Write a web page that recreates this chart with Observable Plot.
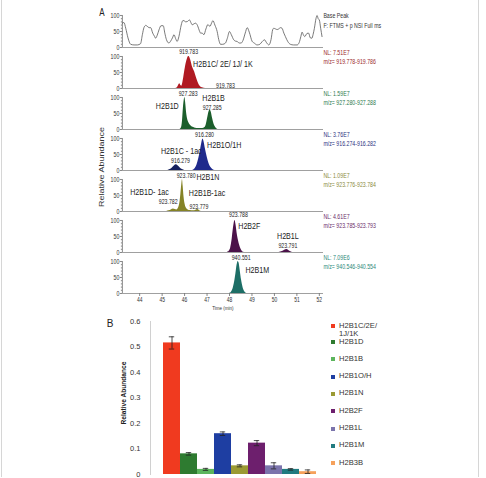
<!DOCTYPE html>
<html><head><meta charset="utf-8">
<script src="https://cdn.jsdelivr.net/npm/d3@7"></script>
<script src="https://cdn.jsdelivr.net/npm/@observablehq/plot@0.6"></script>
<style>
body{margin:0;background:#fff;}
#fig{position:relative;width:486px;height:478px;overflow:hidden;background:#fff;font-family:"Liberation Sans",Arial,Helvetica,sans-serif;color:#222;}
.abs{position:absolute;white-space:nowrap;}
</style></head><body><div id="fig"></div>
<script>
// ---------- Panel A data ----------
const panelKeys = ["BP","C","D","O","N","F","M"];
const nlText = ["Base Peak","NL: 7.51E7","NL: 1.59E7","NL: 3.76E7","NL: 1.09E7","NL: 4.61E7","NL: 7.09E6"];
const mzText = ["F: FTMS + p NSI Full ms","m/z= 919.778-919.786","m/z= 927.280-927.288","m/z= 916.274-916.282","m/z= 923.776-923.784","m/z= 923.785-923.793","m/z= 940.546-940.554"];
const nlColors = ["#333333","#9a2a2a","#2e7a4e","#2b3180","#8a8a3c","#6a2c6a","#2a8878"];
const timeTicks = [44,45,46,47,48,49,50,51,52];

const bpTime = [43.23,43.30,43.38,43.48,43.60,43.75,43.90,44.04,44.12,44.19,44.27,44.34,44.42,44.49,44.58,44.66,44.71,44.78,44.86,44.95,45.05,45.12,45.19,45.30,45.38,45.46,45.53,45.60,45.67,45.75,45.85,45.92,45.97,46.05,46.12,46.22,46.28,46.34,46.42,46.49,46.58,46.66,46.71,46.78,46.86,46.95,47.04,47.09,47.13,47.20,47.26,47.35,47.45,47.52,47.60,47.70,47.82,47.90,48.00,48.08,48.19,48.26,48.34,48.43,48.52,48.60,48.70,48.79,48.88,49.01,49.10,49.23,49.35,49.45,49.56,49.65,49.75,49.85,49.92,49.97,50.05,50.12,50.19,50.27,50.34,50.42,50.49,50.60,50.71,50.85,51.01,51.10,51.18,51.23,51.30,51.35,51.45,51.52,51.60,51.67,51.72,51.78,51.85,51.90,51.95,52.00,52.06,52.12];
const bpInt  = [76,78,60,30,10,8,8,12,40,62,69,66,62,62,45,35,29,38,55,68,68,45,25,14,20,30,40,28,19,35,70,84,84,80,81,86,78,71,74,76,68,52,45,45,40,58,72,68,66,76,84,70,50,25,10,10,14,28,50,40,24,20,19,14,14,22,45,62,48,19,14,8,10,18,24,15,8,25,55,60,58,56,58,62,60,45,34,18,10,8,8,15,35,48,38,34,44,45,30,29,40,60,90,100,90,86,60,34];

const cTime = [45.60,45.67,45.73,45.78,45.83,45.87,45.94,46.01,46.07,46.12,46.16,46.19,46.23,46.27,46.34,46.44,46.53,46.64,46.79,46.93];
const cInt  = [0,2,10,15,9,7,27,58,80,92,99,100,96,88,69,52,32,12,2,0];

const dTime = [45.78,45.85,45.90,45.94,45.98,46.01,46.04,46.08,46.12,46.19,46.30,46.44,46.64,46.80,46.90,46.96,47.02,47.08,47.13,47.18,47.24,47.30,47.38,47.48];
const dInt  = [0,5,25,65,92,100,85,55,35,20,10,5,3,3,6,15,35,55,62,55,35,18,6,0];

const oTime = [46.35,46.45,46.55,46.63,46.70,46.76,46.81,46.86,46.92,47.00,47.08,47.16,47.25,47.35];
const oInt  = [0,5,18,38,62,85,98,90,68,42,22,10,3,0];
const o2Time = [45.25,45.35,45.45,45.55,45.62,45.70,45.80,45.90,46.00];
const o2Int  = [0,3,8,15,18,15,8,3,0];

const nTime = [45.20,45.30,45.40,45.50,45.58,45.65,45.72,45.78,45.83,45.87,45.90,45.93,45.97,46.02,46.08,46.15,46.25,46.40,46.50,46.58,46.64,46.70,46.80];
const nInt  = [0,2,5,8,6,5,10,25,55,85,100,80,45,22,10,5,3,2,4,6,4,1,0];

const fTime = [47.90,47.98,48.05,48.10,48.15,48.20,48.24,48.28,48.33,48.40,48.48,48.56,48.65];
const fInt  = [0,4,15,35,65,90,100,88,62,35,15,4,0];
const lTime = [50.20,50.35,50.45,50.55,50.62,50.70,50.80];
const lInt  = [0,3,7,9,7,3,0];

const mTime = [48.00,48.08,48.15,48.22,48.28,48.33,48.38,48.42,48.47,48.53,48.60,48.68,48.76];
const mInt  = [0,4,14,35,62,88,100,95,72,42,18,5,0];

// peak labels: [panel, time, level, text, anchor, fontSize]
const peakLabels = [
  ["C",46.18,115,"919.783","middle",7],
  ["C",46.38,78,"H2B1C/ 2E/ 1J/ 1K","start",9.5],
  ["C",47.82,9,"919.783","middle",7],
  ["D",46.16,113,"927.283","middle",7],
  ["D",45.74,72,"H2B1D","end",9.5],
  ["D",47.29,98,"H2B1B","middle",9.5],
  ["D",47.23,69,"927.285","middle",7],
  ["O",46.89,111,"916.280","middle",7],
  ["O",47.00,80,"H2B1O/1H","start",9.5],
  ["O",46.76,62,"H2B1C - 1ac","end",9.5],
  ["O",45.82,31,"916.279","middle",7],
  ["N",46.07,112,"923.780","middle",7],
  ["N",46.53,109,"H2B1N","start",9.5],
  ["N",45.30,62,"H2B1D- 1ac","end",9.5],
  ["N",46.19,57,"H2B1B-1ac","start",9.5],
  ["N",45.27,29,"923.782","middle",7],
  ["N",46.64,16,"923.779","middle",7],
  ["F",48.40,117,"923.788","middle",7],
  ["F",48.39,83,"H2B2F","start",9.5],
  ["F",50.60,53,"H2B1L","middle",9.5],
  ["F",50.60,22,"923.791","middle",7],
  ["M",48.52,111,"940.551","middle",7],
  ["M",48.71,75,"H2B1M","start",9.5]
];

// ---------- Panel B data ----------
const bCategories = ["H2B1C/2E/1J/1K","H2B1D","H2B1B","H2B1O/H","H2B1N","H2B2F","H2B1L","H2B1M","H2B3B"];
const bValues = [0.516,0.081,0.020,0.160,0.034,0.123,0.034,0.020,0.011];
const bErrors = [0.024,0.005,0.004,0.007,0.004,0.010,0.012,0.003,0.007];
const bColors = ["#f03a1f","#2e7b30","#5cb55d","#1e3ea2","#9b9a33","#6d1f6d","#7b74ac","#217b80","#f6a15b"];
const bTicks = [0,0.1,0.2,0.3,0.4,0.5,0.6];

// ---------- build ----------
const FONT = '"Liberation Sans", Arial, Helvetica, sans-serif';
const fig = document.getElementById("fig");
const rows = (panel, T, V) => T.map((t,i)=>({panel, t, v: V[i]}));
const xDomain = [43.23, 52.18];
const sA = 0.75; // horizontal squeeze of panel A
const labelRows = peakLabels.map(([panel,t,v,text,anchor,size])=>({panel,t,v,text,anchor,size}));
const nlRows = panelKeys.map((p,i)=>({panel:p, text:nlText[i], color:nlColors[i], v: i===0?100:112}));
const mzRows = panelKeys.map((p,i)=>({panel:p, text:mzText[i], color:nlColors[i], v: i===0?69:83}));

const area = (data, fill) => Plot.areaY(data, {x:"t", y:"v", fy:"panel", fill, curve:"monotone-x"});

const plotA = Plot.plot({
  width: 486/sA, height: 316,
  marginLeft: 122/sA, marginRight: (486-323)/sA, marginTop: 5, marginBottom: 22,
  x: {domain: xDomain},
  y: {domain: [0, 128], label: null},
  fy: {domain: panelKeys, padding: 0, axis: null},
  style: {fontFamily: FONT, background: "transparent", color: "#222"},
  marks: [
    Plot.ruleY([0], {stroke: "#777", strokeWidth: 0.8}),
    Plot.ruleX([xDomain[0]], {x: d=>d, y1: 0, y2: 100, stroke: "#777", strokeWidth: 1}),
    Plot.axisY({ticks: [10,20,30,40,60,70,80,90], tickSize: 1.5, text: null, stroke: "#777", label: null}),
    Plot.axisY({ticks: [0,50,100], tickSize: 3, tickPadding: 1, fontSize: 7, stroke: "#777", fill: "#333", label: null}),
    Plot.axisX({ticks: timeTicks, tickSize: 3, tickPadding: 1, fontSize: 6.6, stroke: "#777", fill: "#333", label: null}),
    Plot.lineY(rows("BP", bpTime, bpInt), {x:"t", y:"v", fy:"panel", stroke:"#555", strokeWidth:0.9, curve:"monotone-x"}),
    area(rows("C", cTime, cInt), "#b01a22"),
    area(rows("D", dTime, dInt), "#1c5e2c"),
    area(rows("O", o2Time, o2Int), "#15205e"),
    area(rows("O", oTime, oInt), "#1f2a8c"),
    area(rows("N", nTime, nInt), "#858326"),
    area(rows("F", fTime, fInt), "#4b1249"),
    area(rows("F", lTime, lInt), "#4b1249"),
    area(rows("M", mTime, mInt), "#1d6e66"),
    ...["start","middle","end"].map(a => Plot.text(labelRows.filter(d=>d.anchor===a),
      {x:"t", y:"v", fy:"panel", text:"text", fontSize:"size", textAnchor:a, fill:"#222"})),
    Plot.text(nlRows, {x: () => xDomain[1], y:"v", fy:"panel", text:"text", fill:"color", textAnchor:"start", fontSize:7}),
    Plot.text(mzRows, {x: () => xDomain[1], y:"v", fy:"panel", text:"text", fill:"color", textAnchor:"start", fontSize:7}),
    Plot.text(["M"], {fy: d=>d, text: () => "Time (min)", frameAnchor: "bottom", dy: 16.5, fontSize: 6, fill:"#333"})
  ]
});
plotA.setAttribute("preserveAspectRatio", "none");
plotA.setAttribute("width", 486);
plotA.style.cssText += ";position:absolute;left:0;top:0;width:486px;height:316px;max-width:none;";
fig.appendChild(plotA);

const bData = bCategories.map((c,i)=>({c, v:bValues[i], e:bErrors[i], color:bColors[i]}));
const plotB = Plot.plot({
  width: 328, height: 173,
  marginLeft: 150, marginRight: 0, marginTop: 16, marginBottom: 4,
  x: {domain: bCategories, paddingInner: 0, paddingOuter: 0.635, axis: null},
  y: {domain: [0, 0.6], label: null},
  style: {fontFamily: FONT, background: "transparent", color: "#333"},
  marks: [
    Plot.frame({anchor: "left", stroke: "#d0d0d0"}),
    Plot.barY(bData, {x:"c", y:"v", fill:"color"}),
    Plot.ruleX(bData, {x:"c", y1: d=>d.v-d.e, y2: d=>d.v+d.e, stroke:"#222", strokeWidth:0.8}),
    Plot.tickY(bData, {x:"c", y: d=>d.v+d.e, insetLeft:5.8, insetRight:5.8, stroke:"#222", strokeWidth:0.8}),
    Plot.tickY(bData, {x:"c", y: d=>d.v-d.e, insetLeft:5.8, insetRight:5.8, stroke:"#222", strokeWidth:0.8}),
    Plot.axisY({ticks: bTicks, tickSize: 0, tickPadding: 10, fontSize: 7.5, fill:"#333", label: null,
      tickFormat: d => d === 0 ? "0" : d.toFixed(1)})
  ]
});
plotB.style.cssText += ";position:absolute;left:0;top:305px;max-width:none;";
fig.appendChild(plotB);

// overlays: panel letters, axis titles, legend, border
function addText(txt, css) {
  const el = document.createElement("div");
  el.className = "abs"; el.textContent = txt; el.style.cssText += css;
  fig.appendChild(el); return el;
}
addText("A", "left:102px;top:12px;font-size:10px;transform:translate(-50%,-50%) scaleX(0.8);");
addText("B", "left:110px;top:323px;font-size:10px;transform:translate(-50%,-50%);");
addText("Relative Abundance", "left:101.5px;top:167px;font-size:9px;color:#333;transform:translate(-50%,-50%) rotate(-90deg) scaleY(0.75);");
addText("Relative Abundance", "left:123px;top:393px;font-size:6.6px;font-weight:bold;color:#222;transform:translate(-50%,-50%) rotate(-90deg);");

bCategories.forEach((c,i) => {
  const cy = i === 0 ? 326 : 342 + (i-1)*17.3;
  const sq = document.createElement("div");
  sq.className = "abs";
  sq.style.cssText += `left:331px;top:${cy-2}px;width:4px;height:4px;background:${bColors[i]};`;
  fig.appendChild(sq);
  const t = document.createElement("div");
  t.className = "abs";
  t.style.cssText += `left:339px;top:${cy-4.5}px;font-size:7.6px;line-height:8.4px;color:#333;white-space:normal;width:44px;`;
  t.innerHTML = c.replace(/\//g, "/<wbr>");
  fig.appendChild(t);
});

const border = document.createElement("div");
border.className = "abs";
border.style.cssText += "left:1px;top:0;width:476px;height:477px;border-left:1px solid #d6d6d6;border-right:1px solid #d6d6d6;";
fig.appendChild(border);
</script></body></html>
